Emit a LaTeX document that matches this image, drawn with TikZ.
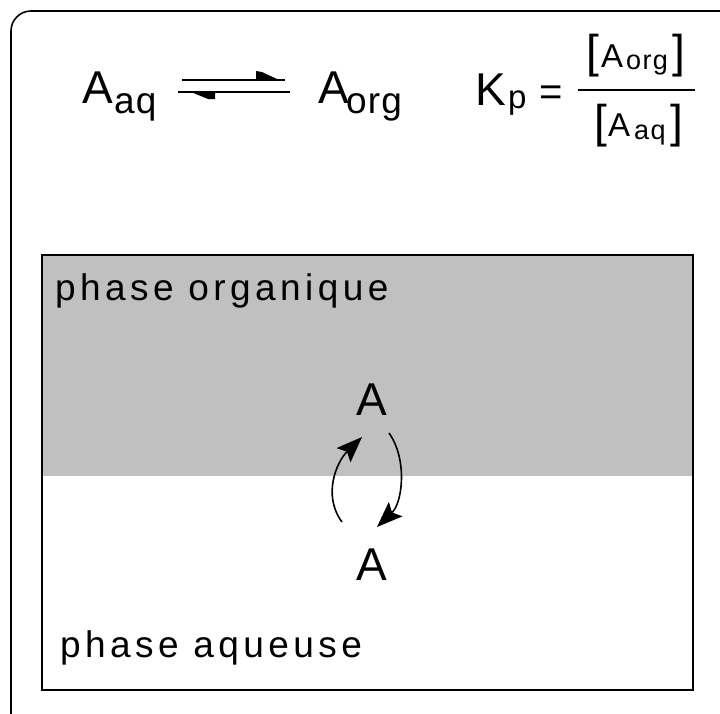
\documentclass[tikz,border=0pt]{standalone}
\usepackage{fontspec}
\setmainfont{Liberation Sans}
\usetikzlibrary{arrows.meta}
\definecolor{phasegray}{HTML}{C0C0C0}
\tikzset{
  lbl/.style={inner sep=0pt, anchor=base west},
  bigA/.style={lbl, font=\fontsize{46}{46}\selectfont},
  subtxt/.style={lbl, font=\fontsize{37}{37}\selectfont\addfontfeature{LetterSpace=3}},
  fracA/.style={lbl, font=\fontsize{33}{33}\selectfont},
  fracsub/.style={lbl, font=\fontsize{27}{27}\selectfont\addfontfeature{LetterSpace=5}},
  brk/.style={lbl, font=\fontsize{46}{46}\selectfont},
  phasetxt/.style={lbl, font=\fontsize{37}{37}\selectfont\addfontfeature{LetterSpace=12}},
  arc/.style={line width=1.6pt},
  eqline/.style={line width=2pt},
}
\begin{document}
\begin{tikzpicture}[x=1pt,y=-1pt]
\useasboundingbox (0,0) rectangle (720,713);
\begin{scope}
  \clip (0,0) rectangle (720,713);
  \draw[line width=1.6pt, rounded corners=20pt] (11,11) rectangle (740,735);
\end{scope}
% phases
\fill[phasegray] (42,255) rectangle (693,476);
\draw[line width=2.5pt] (42,255) rectangle (693,690);
\node[phasetxt] (porg) at (55,300) {phase organique};
\node[phasetxt] (paq) at (60,657) {phase aqueuse};
% equilibrium
\node[bigA] (A1) at (82,103) {A};
\node[subtxt] (s1) at (114,113) {aq};
\node[bigA] (A2) at (318,103) {A};
\node[subtxt] (s2) at (346,113) {org};
\coordinate (t1) at (182,80);
\coordinate (t2) at (285,80);
\coordinate (b1) at (178,92);
\coordinate (b2) at (290,92);
\draw[eqline] (t1) -- (t2);
\draw[eqline] (b1) -- (b2);
\fill (256,80) -- (256,71) -- (262,72) -- (278,79.5) -- cycle;
\fill (191,92) -- (215,92) -- (215,99) -- (208,99) -- cycle;
% Kp
\node[bigA] (K) at (475,105) {K};
\node[lbl, font=\fontsize{33}{33}\selectfont] (p) at (508,108) {p};
\node[inner sep=0pt, font=\fontsize{40}{40}\selectfont] (eq) at (551,96) {=};
\coordinate (f1) at (578,90);
\coordinate (f2) at (695,90);
\draw[line width=2.4pt] (f1) -- (f2);
\node[brk] (nb1) at (586,67) {[};
\node[fracA] (nA) at (601,67) {A};
\node[fracsub] (ns) at (626,69) {org};
\node[brk] (nb2) at (672,67) {]};
\node[brk] (db1) at (594,137) {[};
\node[fracA] (dA) at (608,136) {A};
\node[fracsub] (ds) at (634,139) {aq};
\node[brk] (db2) at (670,137) {]};
% central
\node[bigA] (Au) at (356,415) {A};
\node[bigA] (Ad) at (356,580) {A};
\coordinate (l1) at (342,522);
\coordinate (lN) at (347.0,451.7);
\coordinate (lT) at (362,437);
\coordinate (r1) at (389,433);
\coordinate (rN) at (392.1,512.5);
\coordinate (rT) at (377,527);
\draw[arc] (l1) .. controls (322,495) and (337,461.5) .. (lN);
\draw[arc] (r1) .. controls (408,460) and (402.2,502.8) .. (rN);
\fill (lT) -- (336.5,448.1) -- (lN) -- (350.5,462.4) -- cycle;
\fill (rT) -- (402.6,516.3) -- (rN) -- (388.8,501.9) -- cycle;
\end{tikzpicture}
\end{document}
